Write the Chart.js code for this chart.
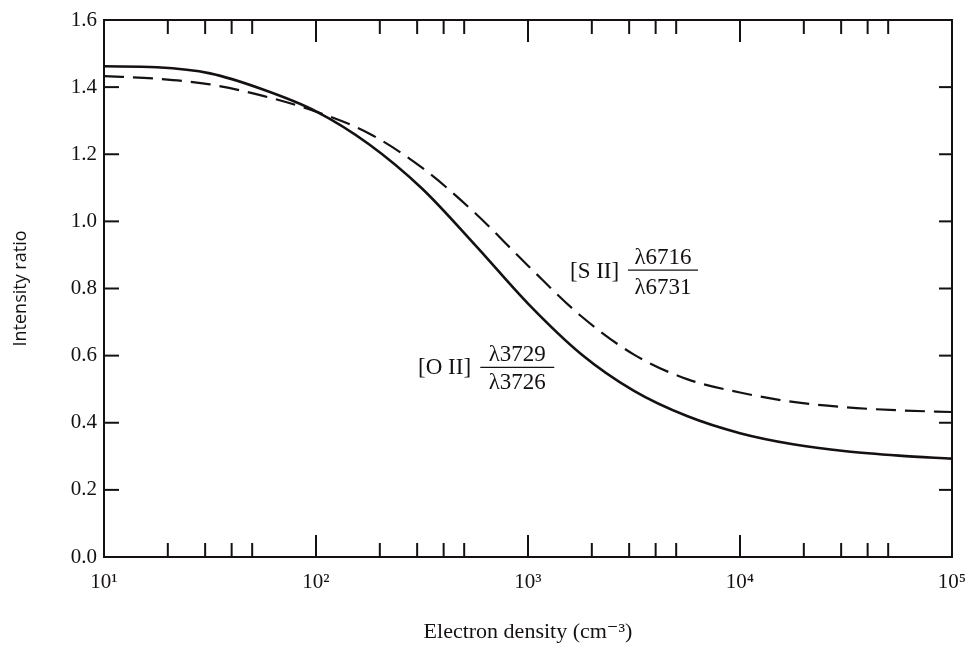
<!DOCTYPE html>
<html><head><meta charset="utf-8">
<script src="https://cdn.jsdelivr.net/npm/chart.js@4.4.1/dist/chart.umd.min.js"></script>
<style>html,body{margin:0;padding:0;background:#fff}#wrap{width:969px;height:645px;position:relative}</style>
</head><body><div id="wrap"><canvas id="c"></canvas></div>
<script>
// ---- data (quarter-decade grid in electron density) ----
const densities = [10, 17.78, 31.62, 56.23, 100, 177.8, 316.2, 562.3, 1000, 1778, 3162, 5623, 10000, 17783, 31623, 56234, 100000];
const oiiRatio  = [1.462, 1.459, 1.441, 1.393, 1.328, 1.230, 1.098, 0.930, 0.755, 0.605, 0.495, 0.420, 0.369, 0.336, 0.315, 0.302, 0.293];
const siiRatio  = [1.433, 1.425, 1.408, 1.374, 1.327, 1.262, 1.160, 1.025, 0.868, 0.718, 0.603, 0.530, 0.490, 0.462, 0.446, 0.437, 0.432];
const xMajorTicks = [10, 100, 1000, 10000, 100000];
const xTickLabels = ['10\u00B9', '10\u00B2', '10\u00B3', '10\u2074', '10\u2075'];
const xMinorTicks = [20, 30, 40, 50, 200, 300, 400, 500, 2000, 3000, 4000, 5000, 20000, 30000, 40000, 50000];
const yTicks = [0, 0.2, 0.4, 0.6, 0.8, 1.0, 1.2, 1.4, 1.6];
const yTickLabels = ['0.0', '0.2', '0.4', '0.6', '0.8', '1.0', '1.2', '1.4', '1.6'];
const seriesNames = ['[O II] \u03BB3729/\u03BB3726', '[S II] \u03BB6716/\u03BB6731'];

const INK = '#141014';
const SERIF = '"Liberation Serif", "DejaVu Serif", serif';

const frameTicks = {
  id: 'frameTicks',
  afterDatasetsDraw(chart) {
    const {ctx, chartArea: a, scales: {x, y}} = chart;
    ctx.save();
    ctx.strokeStyle = INK;
    ctx.lineWidth = 2;
    ctx.strokeRect(a.left, a.top, a.right - a.left, a.bottom - a.top);
    const seg = (x1, y1, x2, y2) => { ctx.beginPath(); ctx.moveTo(x1, y1); ctx.lineTo(x2, y2); ctx.stroke(); };
    xMajorTicks.forEach(v => { const p = x.getPixelForValue(v); seg(p, a.bottom, p, a.bottom - 22); seg(p, a.top, p, a.top + 22); });
    xMinorTicks.forEach(v => { const p = x.getPixelForValue(v); seg(p, a.bottom, p, a.bottom - 14); seg(p, a.top, p, a.top + 14); });
    yTicks.forEach(v => { const p = y.getPixelForValue(v); seg(a.left, p, a.left + 15, p); seg(a.right, p, a.right - 13, p); });

    // curve labels (anchored in data coordinates)
    ctx.fillStyle = INK;
    ctx.font = '23px ' + SERIF;
    ctx.textBaseline = 'middle';
    const label = (name, nameAt, num, den, fracCx, yNum, yBar, yDen, halfW) => {
      const nx = x.getPixelForValue(nameAt[0]), ny = y.getPixelForValue(nameAt[1]);
      ctx.textAlign = 'left';
      ctx.fillText(name, nx, ny);
      const cx = x.getPixelForValue(fracCx);
      ctx.textAlign = 'center';
      ctx.fillText(num, cx, y.getPixelForValue(yNum));
      ctx.fillText(den, cx, y.getPixelForValue(yDen));
      ctx.lineWidth = 1.2;
      const by = y.getPixelForValue(yBar);
      seg(cx - halfW, by, cx + halfW, by);
    };
    label('[S II]', [1578, 0.849], '\u03BB6716', '\u03BB6731', 4335, 0.892, 0.855, 0.803, 35);
    label('[O II]', [303, 0.563], '\u03BB3729', '\u03BB3726', 890, 0.602, 0.565, 0.518, 37);
    ctx.restore();
  }
};

new Chart(document.getElementById('c'), {
  type: 'line',
  data: {
    datasets: [
      { label: seriesNames[0], data: densities.map((d, i) => ({x: d, y: oiiRatio[i]})),
        borderColor: INK, borderWidth: 2.6, pointRadius: 0, cubicInterpolationMode: 'monotone', fill: false },
      { label: seriesNames[1], data: densities.map((d, i) => ({x: d, y: siiRatio[i]})),
        borderColor: INK, borderWidth: 2.2, borderDash: [20, 9], pointRadius: 0, cubicInterpolationMode: 'monotone', fill: false }
    ]
  },
  options: {
    responsive: true, maintainAspectRatio: false, animation: false,
    layout: { padding: { top: 20, right: 17, left: 0, bottom: 0 } },
    plugins: { legend: { display: false }, tooltip: { enabled: false } },
    scales: {
      x: {
        type: 'logarithmic', min: 10, max: 100000,
        afterBuildTicks: s => { s.ticks = xMajorTicks.map(v => ({value: v})); },
        afterFit: s => { s.height = 88; s.paddingLeft = 0; s.paddingRight = 0; },
        grid: { display: false, drawTicks: false },
        border: { display: false },
        ticks: { color: INK, font: { family: SERIF, size: 21 }, padding: 13, maxRotation: 0, autoSkip: false,
                 callback: v => xTickLabels[xMajorTicks.indexOf(v)] },
        title: { display: true, text: 'Electron density (cm\u207B\u00B3)', color: INK,
                 font: { family: SERIF, size: 22 }, padding: { top: 0, bottom: 0 } }
      },
      y: {
        type: 'linear', min: 0, max: 1.6,
        afterBuildTicks: s => { s.ticks = yTicks.map(v => ({value: v})); },
        afterFit: s => { s.width = 104; },
        grid: { display: false, drawTicks: false },
        border: { display: false },
        ticks: { color: INK, font: { family: SERIF, size: 21 }, padding: 7,
                 callback: v => yTickLabels[yTicks.indexOf(v)] },
        title: { display: true, text: 'Intensity ratio', color: INK,
                 font: { family: '"Open Sans", "Lato", sans-serif', size: 18 }, padding: { top: 10, bottom: 0 } }
      }
    }
  },
  plugins: [frameTicks]
});
</script></body></html>
